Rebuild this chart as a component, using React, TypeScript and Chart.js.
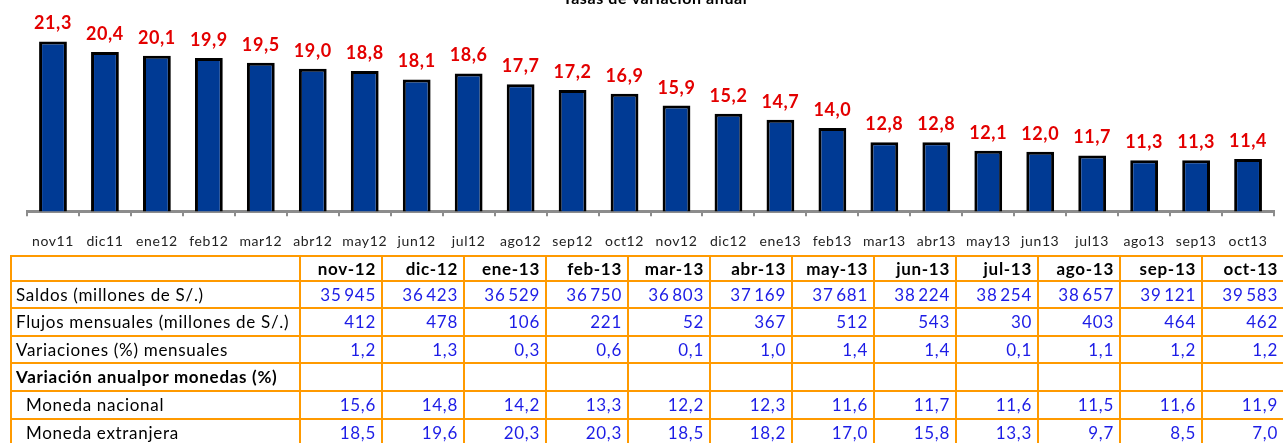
import React, { useEffect, useRef } from "react";
import { Chart, registerables } from "chart.js";

Chart.register(...registerables);

const chartTitle = "Tasas de variación anual";

const categories = [
  "nov11", "dic11", "ene12", "feb12", "mar12", "abr12", "may12", "jun12",
  "jul12", "ago12", "sep12", "oct12", "nov12", "dic12", "ene13", "feb13",
  "mar13", "abr13", "may13", "jun13", "jul13", "ago13", "sep13", "oct13",
];

const annualRates = [
  21.3, 20.4, 20.1, 19.9, 19.5, 19.0, 18.8, 18.1, 18.6, 17.7, 17.2, 16.9,
  15.9, 15.2, 14.7, 14.0, 12.8, 12.8, 12.1, 12.0, 11.7, 11.3, 11.3, 11.4,
];

const tableMonths = [
  "nov-12", "dic-12", "ene-13", "feb-13", "mar-13", "abr-13",
  "may-13", "jun-13", "jul-13", "ago-13", "sep-13", "oct-13",
];

const saldos = [35945, 36423, 36529, 36750, 36803, 37169, 37681, 38224, 38254, 38657, 39121, 39583];
const flujosMensuales = [412, 478, 106, 221, 52, 367, 512, 543, 30, 403, 464, 462];
const variacionesMensuales = [1.2, 1.3, 0.3, 0.6, 0.1, 1.0, 1.4, 1.4, 0.1, 1.1, 1.2, 1.2];
const monedaNacional = [15.6, 14.8, 14.2, 13.3, 12.2, 12.3, 11.6, 11.7, 11.6, 11.5, 11.6, 11.9];
const monedaExtranjera = [18.5, 19.6, 20.3, 20.3, 18.5, 18.2, 17.0, 15.8, 13.3, 9.7, 8.5, 7.0];

const fmtDec = (v: number) => v.toFixed(1).replace(".", ",");
const fmtInt = (v: number) => {
  const s = String(v);
  if (s.length <= 3) return s;
  return s.slice(0, s.length - 3) + "\u2009" + s.slice(-3);
};

const FONT = "Lato, 'Open Sans', sans-serif";

const letterSpacingPlugin = {
  id: "letterSpacing",
  beforeDraw(chart: any) {
    (chart.ctx as any).letterSpacing = "0.6px";
  },
};

const valueLabels = {
  id: "valueLabels",
  afterDatasetsDraw(chart: any) {
    const ctx = chart.ctx;
    const meta = chart.getDatasetMeta(0);
    ctx.save();
    ctx.font = `bold 18px ${FONT}`;
    ctx.fillStyle = "#E30000";
    ctx.textAlign = "center";
    ctx.textBaseline = "alphabetic";
    meta.data.forEach((el: any, i: number) => {
      ctx.fillText(fmtDec(annualRates[i]), el.x, el.y - 12);
    });
    ctx.restore();
  },
};

function BarChart() {
  const ref = useRef<HTMLCanvasElement | null>(null);
  useEffect(() => {
    if (!ref.current) return;
    const chart = new Chart(ref.current, {
      type: "bar",
      data: {
        labels: categories,
        datasets: [
          {
            data: annualRates,
            backgroundColor: "#003A94",
            borderColor: "#000000",
            borderWidth: 3,
            categoryPercentage: 1,
            barPercentage: 0.535,
          },
        ],
      },
      options: {
        animation: false,
        responsive: false,
        maintainAspectRatio: false,
        layout: { padding: { left: 27, right: 0, top: 0, bottom: 0 } },
        plugins: {
          legend: { display: false },
          tooltip: { enabled: false },
          title: {
            display: true,
            text: chartTitle,
            color: "#000",
            font: { family: FONT, size: 16, weight: "bold" },
            padding: { top: 0, bottom: 0 },
          },
        },
        scales: {
          y: { display: false, min: 7, max: 24.1 },
          x: {
            offset: true,
            grid: {
              display: true,
              offset: true,
              drawOnChartArea: false,
              drawTicks: true,
              tickLength: 5,
              color: "#8C8C8C",
              lineWidth: 2,
            },
            border: { display: true, color: "#8C8C8C", width: 3 },
            ticks: {
              color: "#222",
              padding: 17,
              maxRotation: 0,
              autoSkip: false,
              font: { family: FONT, size: 14 },
            },
          },
        },
      },
      plugins: [letterSpacingPlugin, valueLabels],
    });
    return () => chart.destroy();
  }, []);
  return (
    <canvas
      ref={ref}
      width={1283}
      height={278}
      style={{ position: "absolute", left: 0, top: -11, width: 1283, height: 278 }}
    />
  );
}

const rowHeights = [25, 27, 28, 27, 28, 28, 28];

const cellBorder = "2px solid #FF9A00";

function DataTable() {
  const base: React.CSSProperties = {
    border: cellBorder,
    paddingTop: 0,
    paddingBottom: 0,
    lineHeight: "20px",
    whiteSpace: "nowrap",
    overflow: "hidden",
  };
  const labelCell: React.CSSProperties = { ...base, textAlign: "left", paddingLeft: 4, color: "#000" };
  const numCell: React.CSSProperties = { ...base, textAlign: "right", paddingRight: 5, color: "#1C1CE6" };
  const rows: { label: string; bold?: boolean; indent?: boolean; values: string[] }[] = [
    { label: "Saldos (millones de S/.)", values: saldos.map(fmtInt) },
    { label: "Flujos mensuales (millones de S/.)", values: flujosMensuales.map(fmtInt) },
    { label: "Variaciones (%) mensuales", values: variacionesMensuales.map(fmtDec) },
    { label: "Variación anualpor monedas (%)", bold: true, values: tableMonths.map(() => "") },
    { label: "Moneda nacional", indent: true, values: monedaNacional.map(fmtDec) },
    { label: "Moneda extranjera", indent: true, values: monedaExtranjera.map(fmtDec) },
  ];
  return (
    <table
      style={{
        position: "absolute",
        left: 10,
        top: 255,
        borderCollapse: "collapse",
        tableLayout: "fixed",
        width: 1274,
        fontFamily: FONT,
        fontSize: 17,
        letterSpacing: "0.7px",
      }}
    >
      <colgroup>
        <col style={{ width: 289 }} />
        {tableMonths.map((m) => (
          <col key={m} style={{ width: 82 }} />
        ))}
      </colgroup>
      <tbody>
        <tr style={{ height: rowHeights[0] }}>
          <td style={base}></td>
          {tableMonths.map((m) => (
            <td key={m} style={{ ...numCell, color: "#000", fontWeight: "bold" }}>
              {m}
            </td>
          ))}
        </tr>
        {rows.map((r, ri) => (
          <tr key={r.label} style={{ height: rowHeights[ri + 1] }}>
            <td
              style={{
                ...labelCell,
                fontWeight: r.bold ? "bold" : "normal",
                paddingLeft: r.indent ? 14 : 4,
              }}
            >
              {r.label}
            </td>
            {r.values.map((v, i) => (
              <td key={i} style={numCell}>
                {v}
              </td>
            ))}
          </tr>
        ))}
      </tbody>
    </table>
  );
}

export default function App() {
  return (
    <div
      style={{
        position: "absolute",
        left: 0,
        top: 0,
        width: 1283,
        height: 443,
        overflow: "hidden",
        background: "#fff",
      }}
    >
      <BarChart />
      <DataTable />
    </div>
  );
}
